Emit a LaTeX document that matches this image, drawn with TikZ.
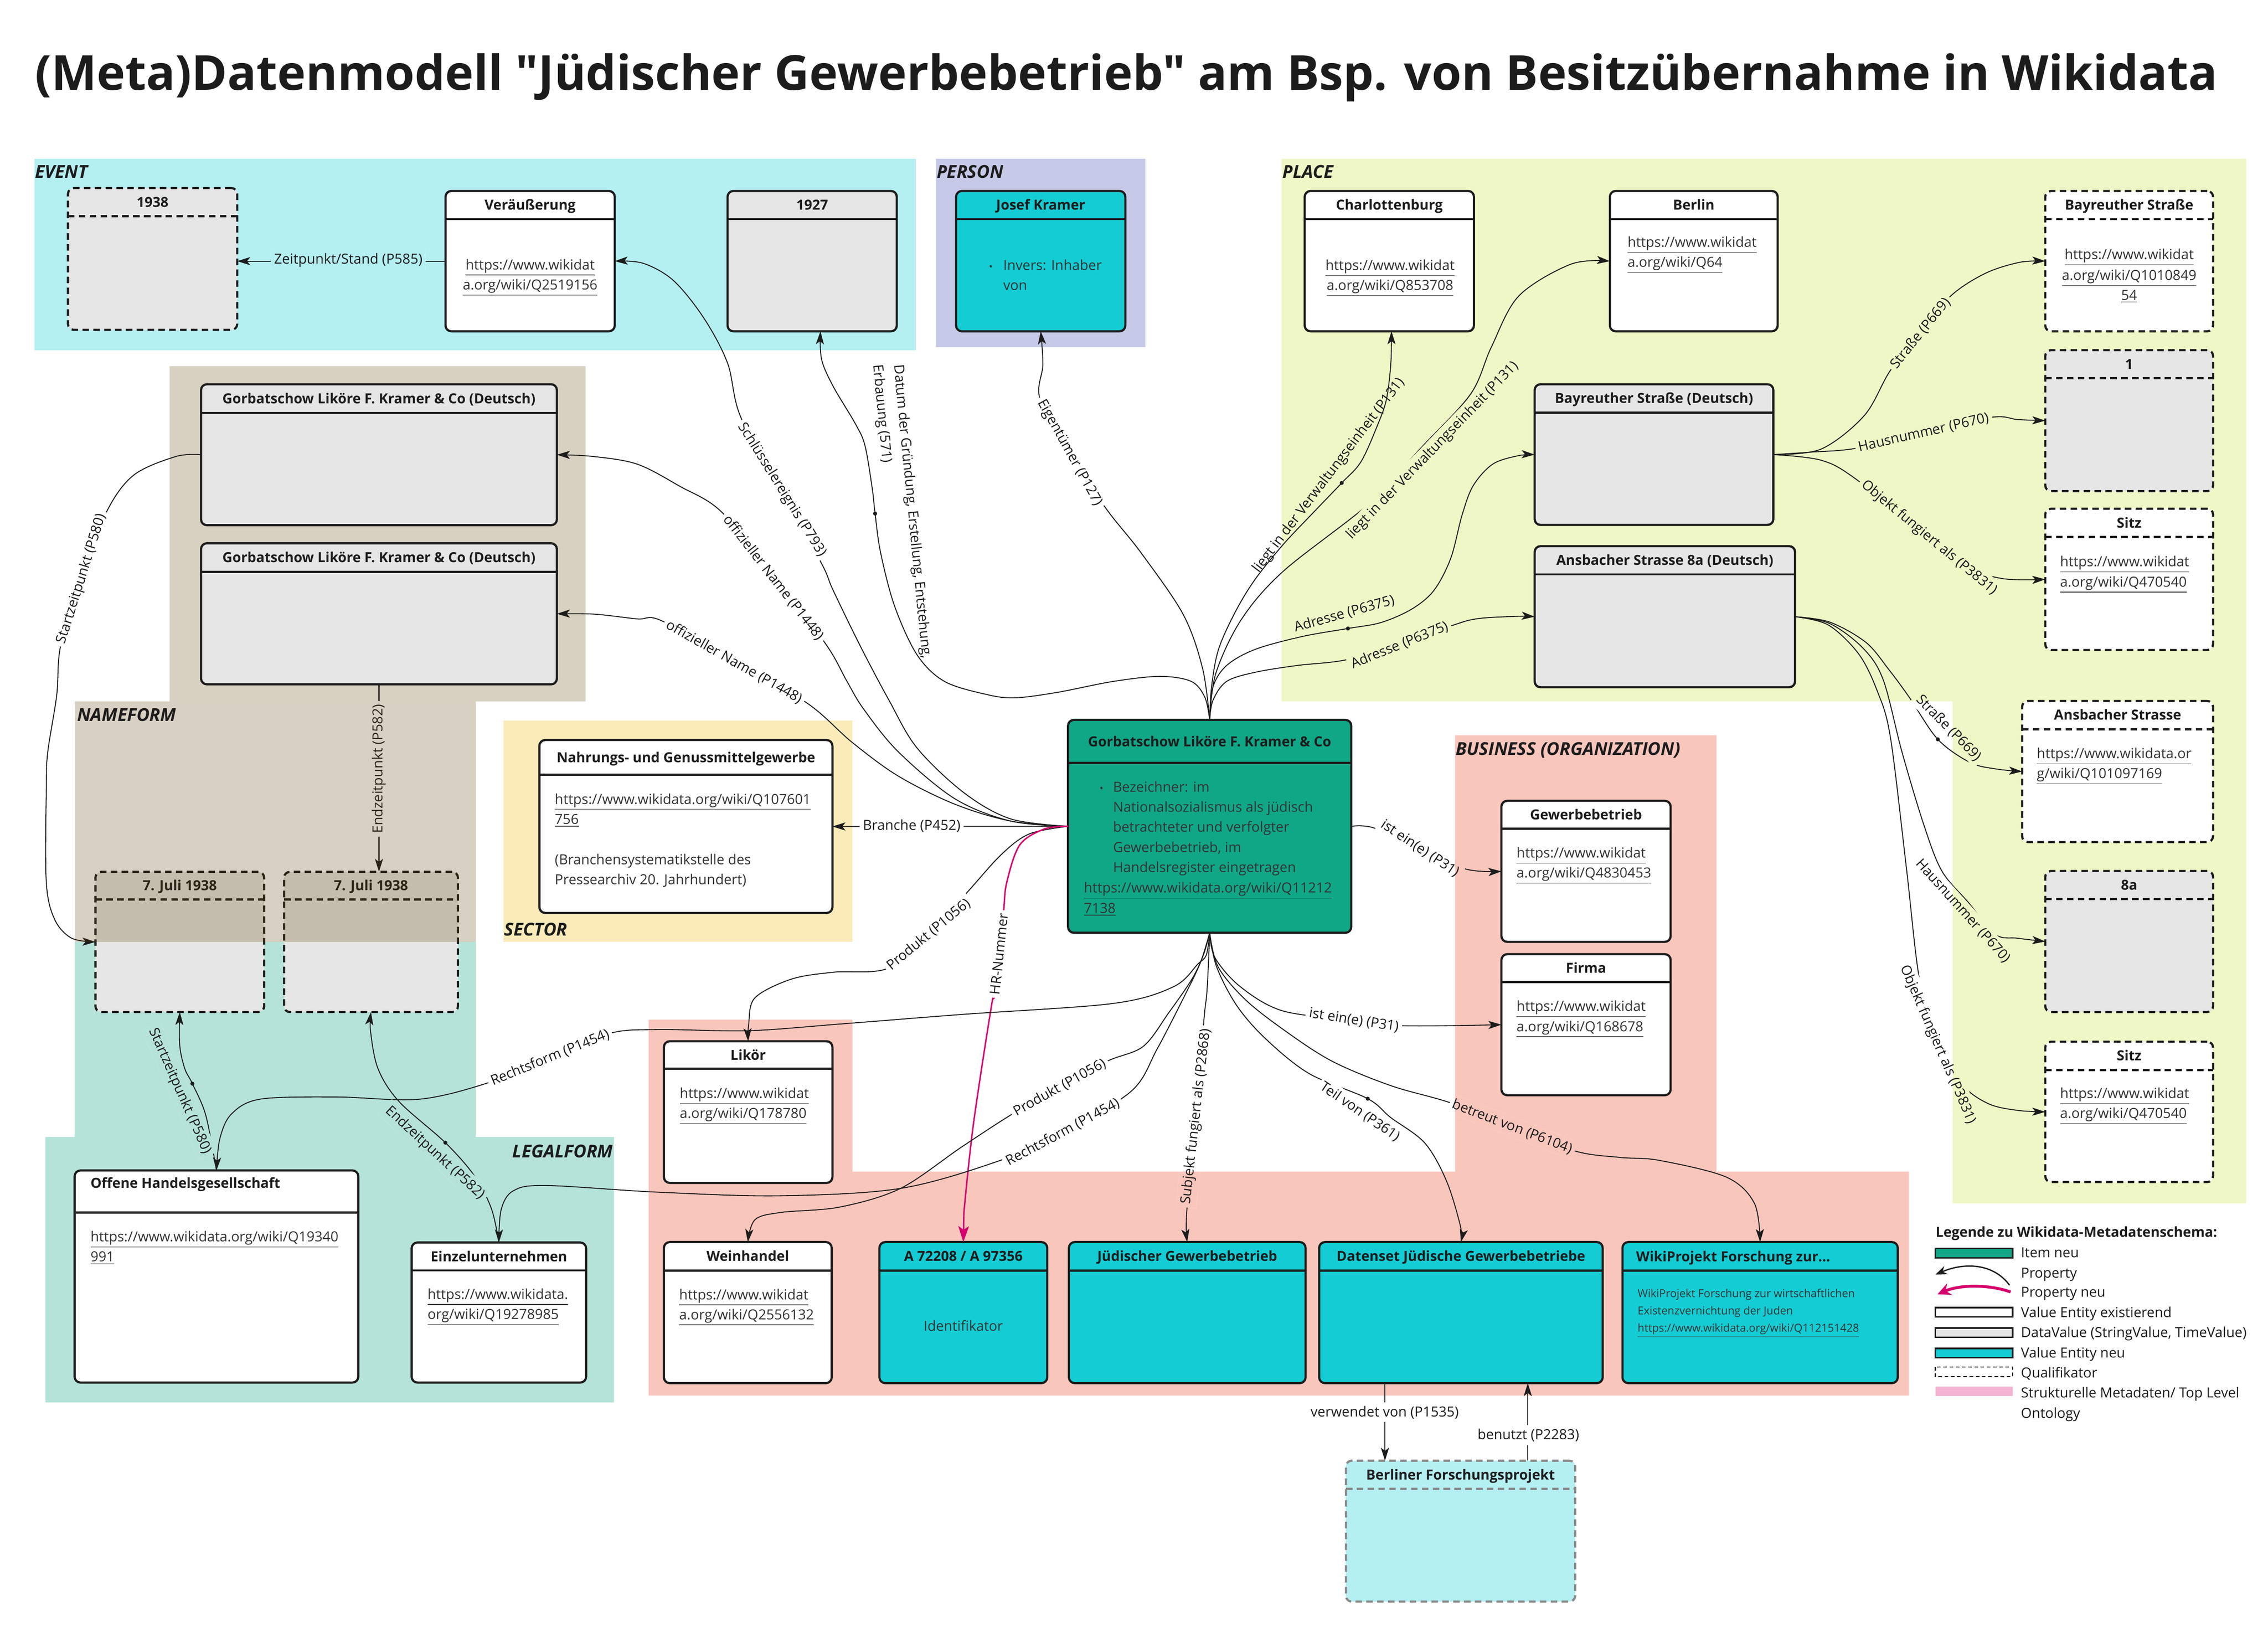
\documentclass[tikz,border=0pt]{standalone}
\usepackage{fontspec}
\setmainfont{Open Sans}[Ligatures=TeXOff]
\usetikzlibrary{arrows.meta}

\definecolor{evbg}{HTML}{B4EFF1}
\definecolor{pebg}{HTML}{C6C9E7}
\definecolor{plbg}{HTML}{EFF7C6}
\definecolor{nfbg}{HTML}{D8D0C0}
\definecolor{lfbg}{HTML}{B5E3D9}
\definecolor{sebg}{HTML}{FBEBB9}
\definecolor{bubg}{HTML}{F9C6BC}
\definecolor{dv}{HTML}{E6E6E6}
\definecolor{vcyan}{HTML}{14CDD4}
\definecolor{itemg}{HTML}{10A787}
\definecolor{ink}{HTML}{1C1C1C}
\definecolor{txt}{HTML}{333333}
\definecolor{mag}{HTML}{D6006C}
\definecolor{legpink}{HTML}{F4B3D2}
\definecolor{nfover}{RGB}{92,59,0}
\definecolor{bfgray}{HTML}{8A8A8A}

\newcount\tlc
\newcommand\ulk[1]{\underline{#1}}
\newcommand\bul{{\fontsize{7}{7}\selectfont\textbullet}}

\tikzset{
 solidb/.style={draw=ink, line width=1.5pt},
 dashb/.style={draw=ink, line width=1.5pt, dash pattern=on 4.5pt off 3pt},
 graydashb/.style={draw=bfgray, line width=1.5pt, dash pattern=on 4.5pt off 3pt},
 hdr/.style={font=\bfseries\fontsize{9.6}{11}\selectfont, text=ink, inner sep=0pt, anchor=base},
 btxt/.style={font=\fontsize{9.6}{11}\selectfont, text=txt, inner sep=0pt},
 stxt/.style={font=\fontsize{7.6}{9}\selectfont, text=txt, inner sep=0pt},
 elab/.style={font=\fontsize{9.6}{11.5}\selectfont, text=ink, inner sep=2pt},
 edge/.style={draw=ink, line width=0.65pt, -{Stealth[length=9pt,width=5.6pt,inset=2.2pt]}},
 hredge/.style={draw=mag, line width=1pt, -{Stealth[length=11pt,width=7.4pt,inset=2.5pt]}},
 grp/.style={font=\bfseries\itshape\fontsize{12.3}{14}\selectfont, text=ink, inner sep=0pt},
 lgtxt/.style={font=\fontsize{9.6}{11}\selectfont, text=ink, inner sep=0pt, anchor=base west},
}

\newcommand\drawbgs{%
 \fill[white] (0,0) rectangle (1568,1124.3);
 \fill[evbg] (23.8,109.8) rectangle (633,242);
 \fill[pebg] (646.8,109.8) rectangle (791.8,240);
 \fill[plbg] (886,109.8) -- (1553,109.8) -- (1553,831.8) -- (1350,831.8) -- (1350,484.7) -- (886,484.7) -- cycle;
 \fill[nfbg] (117.4,253) rectangle (404.8,484.7);
 \fill[lfbg] (51.6,651) -- (328.9,651) -- (328.9,785.9) -- (424.5,785.9) -- (424.5,969.4) -- (31.4,969.4) -- (31.4,785.9) -- (51.6,785.9) -- cycle;
 \fill[sebg] (348,498) rectangle (589.4,651);
 \fill[bubg] (448.5,704.8) -- (589.4,704.8) -- (589.4,809.8) -- (1006,809.8) -- (1006,508.2) -- (1186.7,508.2) -- (1186.7,809.8) -- (1319.8,809.8) -- (1319.8,964.6) -- (448.5,964.6) -- cycle;
}

% name, fill, border, x1, y1, x2, y2, header height, header text
\newcommand\ent[9]{%
 \node[#3, fill=#2, rounded corners=4pt, inner sep=0pt, outer sep=0pt,
   minimum width={(#6)-(#4)}, minimum height={(#7)-(#5)}] (#1) at ({((#4)+(#6))/2},{((#5)+(#7))/2}) {};
 \draw[#3] ([yshift={-(#8)*1pt}]#1.north west) -- ([yshift={-(#8)*1pt}]#1.north east);
 \node[hdr] (#1-h) at ([yshift={-((#8)*0.5+3.4)*1pt}]#1.north) {#9};
}

\newcommand\tline[4][base west]{\global\advance\tlc by 1\relax
 \node[btxt,anchor=#1] (t\the\tlc) at (#2,{#3+3.3}) {#4};}
\newcommand\sline[3]{\global\advance\tlc by 1\relax
 \node[stxt,anchor=base west] (t\the\tlc) at (#1,{#2+2.7}) {#3};}

% name, position, angle, text
\newcommand\elab[4]{%
 \path node[elab,rotate=#3] (#1) at (#2) {\phantom{#4}};
 \begin{scope}
  \clip (#1.north west) -- (#1.north east) -- (#1.south east) -- (#1.south west) -- cycle;
  \drawbgs
 \end{scope}
 \node[elab,rotate=#3] (#1-t) at (#1.center) {#4};
}

\begin{document}
\begin{tikzpicture}[x=1pt,y=-1pt]
\useasboundingbox (0,0) rectangle (1568,1124.3);
\drawbgs

% ---------------- entities
\ent{n1938}{dv}{dashb}{47}{130}{164}{228}{19.5}{1938}
\ent{ver}{white}{solidb}{308}{132}{425}{229}{19.5}{Veräußerung}
\ent{n1927}{dv}{solidb}{503}{132}{620}{229}{19.5}{1927}
\ent{jk}{vcyan}{solidb}{661}{132}{778}{229}{19.5}{Josef Kramer}
\ent{cb}{white}{solidb}{902}{132}{1019}{229}{19.5}{Charlottenburg}
\ent{be}{white}{solidb}{1113}{132}{1229}{229}{19.5}{Berlin}
\ent{bsq}{white}{dashb}{1414}{132}{1530}{229}{19.5}{Bayreuther Straße}
\ent{qa}{dv}{dashb}{1414}{242}{1530}{339.5}{19.5}{1}
\ent{sza}{white}{dashb}{1414}{351.6}{1530}{449.3}{19.5}{Sitz}
\ent{bs}{dv}{solidb}{1061}{265.6}{1226}{362.8}{19.5}{Bayreuther Straße (Deutsch)}
\ent{as}{dv}{solidb}{1061}{377.5}{1241}{475}{19.5}{Ansbacher Strasse 8a (Deutsch)}
\ent{asq}{white}{dashb}{1398}{484.5}{1530}{582}{19.5}{Ansbacher Strasse}
\ent{qb}{dv}{dashb}{1414}{602}{1530}{699.5}{19.5}{8a}
\ent{szb}{white}{dashb}{1414}{720}{1530}{817}{19.5}{Sitz}
\ent{ga}{dv}{solidb}{139}{265.6}{385}{363}{19.8}{Gorbatschow Liköre F. Kramer \& Co (Deutsch)}
\ent{gb}{dv}{solidb}{139}{375.5}{385}{473}{19.8}{Gorbatschow Liköre F. Kramer \& Co (Deutsch)}
\ent{ja}{dv}{dashb}{66}{602.6}{182.6}{699.5}{19}{7. Juli 1938}
\ent{jb}{dv}{dashb}{196.4}{602.6}{316.6}{699.5}{19}{7. Juli 1938}
\ent{na}{white}{solidb}{372.9}{511.5}{575.5}{631}{24}{Nahrungs- und Genussmittelgewerbe}
\ent{C}{itemg}{solidb}{738.4}{497.6}{934.2}{644.7}{29.8}{Gorbatschow Liköre F. Kramer \& Co}
\ent{gw}{white}{solidb}{1038}{553.5}{1155}{651}{19.4}{Gewerbebetrieb}
\ent{fi}{white}{solidb}{1038}{659.5}{1155}{757}{19.4}{Firma}
\ent{li}{white}{solidb}{459}{719.7}{575.5}{817.6}{19}{Likör}
\ent{ohg}{white}{solidb}{51.6}{809}{247.7}{955.6}{29}{}
\ent{ez}{white}{solidb}{284.6}{858.8}{405.2}{955.6}{19.3}{Einzelunternehmen}
\ent{wh}{white}{solidb}{459}{858.5}{575}{956}{19.7}{Weinhandel}
\ent{a7}{vcyan}{solidb}{608}{858.5}{724}{956}{19.7}{A 72208 / A 97356}
\ent{jg}{vcyan}{solidb}{739}{858.5}{902.6}{956}{19.7}{Jüdischer Gewerbebetrieb}
\ent{ds}{vcyan}{solidb}{912}{858.5}{1108}{956}{19.7}{Datenset Jüdische Gewerbebetriebe}
\ent{wp}{vcyan}{solidb}{1121.7}{858.5}{1312}{956}{19.7}{}
\ent{bf}{evbg}{graydashb}{930.5}{1009.6}{1089}{1107}{19.4}{Berliner Forschungsprojekt}
\node[hdr,anchor=base west] (ohg-h2) at (62.4,821.2) {Offene Handelsgesellschaft};
\node[hdr,anchor=base west] (wp-h2) at (1131,871.8) {WikiProjekt Forschung zur...};

% ---------------- body texts
\tline[base]{366.5}{183}{\ulk{https://www.wikidat}}
\tline[base]{366.5}{197}{\ulk{a.org/wiki/Q2519156}}
\tline[base]{685}{183.4}{\bul}
\tline{693.4}{183.4}{Invers: Inhaber}
\tline{693.4}{197.3}{von}
\tline[base]{961}{183.4}{\ulk{https://www.wikidat}}
\tline[base]{961}{197.3}{\ulk{a.org/wiki/Q853708}}
\tline{1125}{167.6}{\ulk{https://www.wikidat}}
\tline{1125}{181.4}{\ulk{a.org/wiki/Q64}}
\tline[base]{1472}{176}{\ulk{https://www.wikidat}}
\tline[base]{1472}{190.3}{\ulk{a.org/wiki/Q1010849}}
\tline[base]{1472}{204}{\ulk{54}}
\tline{1424}{388.3}{\ulk{https://www.wikidat}}
\tline{1424}{402.2}{\ulk{a.org/wiki/Q470540}}
\tline{1408}{521}{\ulk{https://www.wikidata.or}}
\tline{1408}{534.8}{\ulk{g/wiki/Q101097169}}
\tline{1424}{755.9}{\ulk{https://www.wikidat}}
\tline{1424}{769.5}{\ulk{a.org/wiki/Q470540}}
\tline{1048.3}{589.6}{\ulk{https://www.wikidat}}
\tline{1048.3}{603.5}{\ulk{a.org/wiki/Q4830453}}
\tline{1048.3}{695.7}{\ulk{https://www.wikidat}}
\tline{1048.3}{709.6}{\ulk{a.org/wiki/Q168678}}
\tline{383.4}{552.4}{\ulk{https://www.wikidata.org/wiki/Q107601}}
\tline{383.4}{566.3}{\ulk{756}}
\tline{383.4}{594.2}{(Branchensystematikstelle des}
\tline{383.4}{608.2}{Pressearchiv 20. Jahrhundert)}
\tline[base]{761.5}{544.1}{\bul}
\tline{769.3}{544.1}{Bezeichner: im}
\tline{769.3}{558}{Nationalsozialismus als jüdisch}
\tline{769.3}{571.8}{betrachteter und verfolgter}
\tline{769.3}{585.7}{Gewerbebetrieb, im}
\tline{769.3}{599.5}{Handelsregister eingetragen}
\tline{749.2}{613.8}{\ulk{https://www.wikidata.org/wiki/Q11212}}
\tline{749.2}{627.7}{\ulk{7138}}
\tline{469.8}{755.8}{\ulk{https://www.wikidat}}
\tline{469.8}{769.6}{\ulk{a.org/wiki/Q178780}}
\tline{469.4}{894.9}{\ulk{https://www.wikidat}}
\tline{469.4}{908.7}{\ulk{a.org/wiki/Q2556132}}
\tline[base]{666}{916.7}{Identifikator}
\sline{1132}{894}{WikiProjekt Forschung zur wirtschaftlichen}
\sline{1132}{906}{Existenzvernichtung der Juden}
\sline{1132}{918}{\ulk{https://www.wikidata.org/wiki/Q112151428}}
\tline{62.4}{855}{\ulk{https://www.wikidata.org/wiki/Q19340}}
\tline{62.4}{868.8}{\ulk{991}}
\tline{295.4}{894.6}{\ulk{https://www.wikidata.}}
\tline{295.4}{908.5}{\ulk{org/wiki/Q19278985}}

% ---------------- connectors
\coordinate (d1927) at ([xshift=5.7pt]n1927.south);
\coordinate (dcb) at ([xshift=1.5pt]cb.south);
\coordinate (vwA) at ([xshift=-52.5pt]ds.south);
\coordinate (bnA) at ([xshift=46.5pt]bf.north);

\draw[edge] (ver.west) -- (ver.west -| n1938.east);
\draw[edge] (C.west) -- (na.east);
\draw[edge] (gb.south) -- (gb.south |- jb.north);
\draw[edge] (vwA) -- (vwA |- bf.north);
\draw[edge] (bnA) -- (bnA |- ds.south);

\draw[edge] plot[smooth,tension=.55] coordinates {(C.west) (698.7,566) (666.5,548) (634,517) (614.6,484) (595,447) (576,408) (568,389.5) (540,339) (512,288) (503,251) (486.7,220) (465.7,194) (444.7,182) (ver.east)};
\draw[edge] plot[smooth,tension=.55] coordinates {(C.west) (698.7,567.5) (660,552) (621,519.6) (597,490) (585.6,471) (570.5,444.6) (534.7,399.3) (499,354) (469.8,336) (440.5,320.8) (410,315.5) (ga.east)};
\draw[edge] plot[smooth,tension=.55] coordinates {(C.west) (698.7,567.5) (660,555.8) (621,536.4) (589,513) (558,486) (507.6,457.5) (457.3,429) (440.5,427.8) (411,424.5) (gb.east)};
\draw[edge] plot[smooth,tension=.55] coordinates {(C.west) (711.6,576.4) (692.3,590.6) (669,616.4) (642,646) (613.6,669.4) (576,672) (547,676.8) (521.9,689.7) (517.6,707.8) (li.north)};
\draw[hredge] plot[smooth,tension=.55] coordinates {(C.west) (722,573) (705,584) (696,610) (693.8,630.4) (690.7,659.4) (687.6,688.4) (685.5,694.9) (672.9,777.5) (666.4,838)} -- (a7.north);

\draw[edge] plot[smooth,tension=.55] coordinates {(C.north) (833,482) (823.6,471) (802,467.5) (769.5,471) (730.7,478.6) (701.7,482.3) (682,480) (653,471) (634,452.6) (618.5,419) (608.8,382) (605,355) (603,337.5) (598,308) (591.4,293) (576,267) (568,248.4) (d1927)};
\draw[edge] plot[smooth,tension=.55] coordinates {(C.north) (831.4,462) (818,424.7) (788.8,382) (764.6,351.4) (739.4,313) (719,276) (721,252) (jk.south)};
\draw[edge] plot[smooth,tension=.55] coordinates {(C.north) (837.6,474.8) (842.4,448.9) (854,423) (867.6,400.6) (887,376.5) (906.3,356) (927.6,333.8) (941,319) (952.7,293) (958.5,276) (961.5,252) (dcb)};
\draw[edge] plot[smooth,tension=.55] coordinates {(C.north) (840.5,465.6) (858,428.5) (887,395) (947,347.7) (982,310) (1016.6,272.5) (1031,240) (1050,204.6) (1086,182.6) (be.west)};
\draw[edge] plot[smooth,tension=.55] coordinates {(C.north) (838.6,474.8) (848,460) (867.6,448.9) (900,440) (931.9,434.4) (954.7,430.3) (976,421) (991.4,408) (1003,385.8) (1010.8,356) (1018.5,335.7) (1032,320.8) (1049.5,315) (bs.west)};
\draw[edge] plot[smooth,tension=.55] coordinates {(C.north) (838.6,484) (848,471) (867.6,464.7) (896.5,460) (929.4,456.3) (967.7,446) (1005,432) (1022.4,427.5) (1049.5,426) (as.west)};

\draw[edge] plot[smooth,tension=.55] coordinates {(C.east) (949.7,572.2) (981.8,586.5) (1013.5,600.7) (gw.west)};

\draw[edge] plot[smooth,tension=.55] coordinates {(C.south) (840,662) (857.5,682) (886.8,698.7) (936,705.2) (971,709) (fi.west)};
\draw[edge] plot[smooth,tension=.55] coordinates {(C.south) (842,668) (860,690) (885,710) (920,733) (961.3,750.3) (1002,762) (1045.5,778.8) (1089,795.6) (1120,800) (1147,802) (1193.5,813.6) (1212.9,831.7) (wp.north)};
\draw[edge] plot[smooth,tension=.55] coordinates {(C.south) (841,668) (855,695) (875,718) (905,742) (945.6,759.4) (961.3,772.3) (985,790) (1000,816.2) (1009.6,847.2) (ds.north)};
\draw[edge] plot[smooth,tension=.55] coordinates {(C.south) (835.5,665) (834.3,687) (832.3,705.3) (827,771.7) (820.5,836.8) (jg.north)};
\draw[edge] plot[smooth,tension=.55] coordinates {(C.south) (832,660) (824,676.8) (808,700) (790.3,723.3) (765.2,733.6) (732.7,751.7) (700.2,769.8) (664.5,793) (622.6,821.4) (580.6,834.3) (540,838) (522,843) (wh.north)};
\draw[edge] plot[smooth,tension=.55] coordinates {(C.south) (830,665) (819.6,687) (800,725) (782,754.3) (734.8,782.6) (691.7,802) (622.6,821.4) (538.6,826.5) (454.7,824) (377.6,819.4) (355,823) (346.5,836) (ez.north)};
\draw[edge] plot[smooth,tension=.55] coordinates {(C.south) (834,660) (828,666.5) (811.3,682) (769.3,693.6) (664.5,701.2) (580.6,707.8) (517.6,712.4) (454.7,711.6) (421.2,714.3) (380.3,731) (339.4,747.8) (290.4,759.7) (232.4,758.2) (180,759.7) (160,770) (152,787) (ohg.north)};

\draw[edge] plot[smooth,tension=.55] coordinates {(ga.west) (121.7,315.5) (92.3,328.5) (73.4,354.3) (56.5,400) (42,445.9) (39.2,480.6) (33,520) (32,545.2) (32,609.7) (37.8,635.5) (49.4,648.4) (ja.west)};
\draw[edge] plot[smooth,tension=.55] coordinates {(ohg.north) (142.3,771) (133,749) (127.8,738.8) (124.3,722.8) (ja.south)};
\draw[edge] plot[smooth,tension=.55] coordinates {(ez.north) (339.8,835.6) (328.2,813) (307.9,789.8) (275.9,761.4) (261.4,738.8) (256.2,713) (jb.south)};

\draw[edge] plot[smooth,tension=.55] coordinates {(bs.east) (1259,310.4) (1288.9,287.2) (1306.8,256.2) (1327.7,230.4) (1348.6,204.6) (1372.4,189) (1396.3,181.3) (bsq.west)};
\draw[edge] plot[smooth,tension=.55] coordinates {(bs.east) (1252,312.5) (1282.9,309.9) (1330,299.2) (1377.2,288.4) (1395,290) (qa.west)};
\draw[edge] plot[smooth,tension=.55] coordinates {(bs.east) (1259,318.1) (1282.9,331) (1333.6,371.6) (1360,392) (1385,400) (sza.west)};
\draw[edge] plot[smooth,tension=.55] coordinates {(as.east) (1265,430) (1290,444) (1306,463) (1320,482) (1339.7,511) (1362,527) (1380,531.5) (asq.west)};
\draw[edge] plot[smooth,tension=.55] coordinates {(as.east) (1265,431) (1288,448) (1302,470) (1315,520) (1330,570) (1342.5,602) (1361,624) (1379.3,645.8) (1395,648.5) (qb.west)};
\draw[edge] plot[smooth,tension=.55] coordinates {(as.east) (1264,432) (1285,452) (1298,478) (1307,510) (1318,600) (1327,676.8) (1339.6,722) (1356.8,750) (1375,763) (1395,767.5) (szb.west)};

% ---------------- connector labels
\elab{lzs}{240.8,180}{0}{Zeitpunkt/Stand (P585)}
\elab{lsk}{540.5,338.5}{-58}{Schlüsselereignis (P793)}
\elab{lon1}{534.7,399.3}{-52}{offizieller Name (P1448)}
\elab{lon2}{507.6,457.5}{-29.5}{offizieller Name (P1448)}
\node[elab,rotate=-84.5,anchor=west] (ldat1) at (620.4,250) {Datum der Gründung, Erstellung, Entstehung,};
\node[elab,rotate=-84.5,anchor=west] (ldat2) at (606,250) {Erbauung (571)};
\elab{leig}{739.4,313}{-61}{Eigentümer (P127)}
\node[elab,rotate=52.7] (lli1) at (918.8,328.7) {liegt in der Verwaltungseinheit (P131)};
\elab{lli2}{990.5,311.5}{46}{liegt in der Verwaltungseinheit (P131)}
\elab{lad1}{929.5,424.3}{15.6}{Adresse (P6375)}
\elab{lad2}{967.7,446}{22}{Adresse (P6375)}
\elab{lst1}{1327.7,230.4}{51}{Straße (P669)}
\elab{lhn1}{1330,299.2}{12.8}{Hausnummer (P670)}
\elab{lof1}{1333.6,371.6}{-39.5}{Objekt fungiert als (P3831)}
\elab{lst2}{1347.3,503.2}{-45.4}{Straße (P669)}
\elab{lhn2}{1357,629.7}{-48}{Hausnummer (P670)}
\elab{lof2}{1339.6,722}{-66.5}{Objekt fungiert als (P3831)}
\elab{lie1}{981.8,586.5}{-33.5}{ist ein(e) (P31)}
\elab{lie2}{936,705.2}{-9}{ist ein(e) (P31)}
\elab{lbv}{1045.5,778.8}{-21}{betreut von (P6104)}
\elab{ltv}{940.3,768.4}{-34.5}{Teil von (P361)}
\elab{lsf}{827,771.7}{83.5}{Subjekt fungiert als (P2868)}
\elab{lpw}{732.7,751.7}{29}{Produkt (P1056)}
\elab{lre}{734.8,782.6}{28.3}{Rechtsform (P1454)}
\elab{lro}{380.3,731}{22.3}{Rechtsform (P1454)}
\elab{lpl}{642,646}{39.4}{Produkt (P1056)}
\elab{lhr}{690.7,659.4}{84}{HR-Nummer}
\elab{lbr}{630.3,570.8}{0}{Branche (P452)}
\elab{lsz1}{56.5,400.1}{72.5}{Startzeitpunkt (P580)}
\elab{lez1}{262,531.4}{90}{Endzeitpunkt (P582)}
\elab{lsz2}{124.2,754.1}{-66.2}{Startzeitpunkt (P580)}
\elab{lez2}{300.6,796.8}{-42.7}{Endzeitpunkt (P582)}
\elab{lvw}{957.3,976.2}{0}{verwendet von (P1535)}
\elab{lbn}{1056.6,991.9}{0}{benutzt (P2283)}

% small junction dots
\foreach \p in {(605,355),(927.6,333.8),(931.9,434.4),(1339.7,511),(133,749),(307.9,789.8),(945.6,759.4)}
  \fill[ink] \p circle (1.4pt);

% NAMEFORM lower part lies over the qualifier boxes
\fill[nfover, fill opacity=0.24] (51.6,484.7) rectangle (328.9,651);

% ---------------- group labels
\node[grp,anchor=base west] (gEV) at (24,123.2) {EVENT};
\node[grp,anchor=base west] (gPE) at (647.4,123.2) {PERSON};
\node[grp,anchor=base west] (gPL) at (886.5,123.2) {PLACE};
\node[grp,anchor=base west] (gNF) at (53.2,498.4) {NAMEFORM};
\node[grp,anchor=base west] (gSE) at (348.5,646.8) {SECTOR};
\node[grp,anchor=base east] (gLF) at (424,800) {LEGALFORM};
\node[grp,anchor=base west] (gBU) at (1006.2,522) {BUSINESS (ORGANIZATION)};

% ---------------- title
\node[anchor=base west, inner sep=0pt, text=ink, font=\bfseries\fontsize{33.33}{40}\selectfont] (title) at (24,62.4)
  {(Meta)Datenmodell "Jüdischer Gewerbebetrieb" am Bsp. von Besitzübernahme in Wikidata};

% ---------------- legend
\node[lgtxt,font=\bfseries\fontsize{9.6}{11}\selectfont] (lgt) at (1338,855) {Legende zu Wikidata-Metadatenschema:};
\draw[ink, line width=1pt, fill=itemg] (1338,862.9) rectangle (1391.4,869.4);
\coordinate (lgpa) at (1389.3,888.3);
\coordinate (lgpb) at (1338,881);
\draw[ink, line width=0.9pt, -{Stealth[length=8pt,width=6pt]}] (lgpa) .. controls (1378,873) and (1358,872.5) .. (lgpb);
\coordinate (lgma) at (1390,893);
\coordinate (lgmb) at (1339.5,894.6);
\draw[mag, line width=2pt, -{Stealth[length=9pt,width=8.5pt]}] (lgma) .. controls (1376,888) and (1356,887.5) .. (lgmb);
\draw[ink, line width=1pt, fill=white] (1338,903.8) rectangle (1391.4,910.3);
\draw[ink, line width=1pt, fill=dv] (1338,917.9) rectangle (1391.4,924.2);
\draw[ink, line width=1pt, fill=vcyan] (1338,932) rectangle (1391.4,938.4);
\draw[ink, line width=0.8pt, dash pattern=on 2.5pt off 1.8pt] (1338,944.9) rectangle (1391.4,951.4);
\fill[legpink] (1338,958.3) rectangle (1391.4,964.9);
\node[lgtxt] (lg1) at (1397,869) {Item neu};
\node[lgtxt] (lg2) at (1397,883.2) {Property};
\node[lgtxt] (lg3) at (1397,896.3) {Property neu};
\node[lgtxt] (lg4) at (1397,910.5) {Value Entity existierend};
\node[lgtxt] (lg5) at (1397,924.4) {DataValue (StringValue, TimeValue)};
\node[lgtxt] (lg6) at (1397,938.3) {Value Entity neu};
\node[lgtxt] (lg7) at (1397,952.3) {Qualifikator};
\node[lgtxt] (lg8) at (1397,965.9) {Strukturelle Metadaten/ Top Level};
\node[lgtxt] (lg9) at (1397,980.2) {Ontology};
\end{tikzpicture}
\end{document}
